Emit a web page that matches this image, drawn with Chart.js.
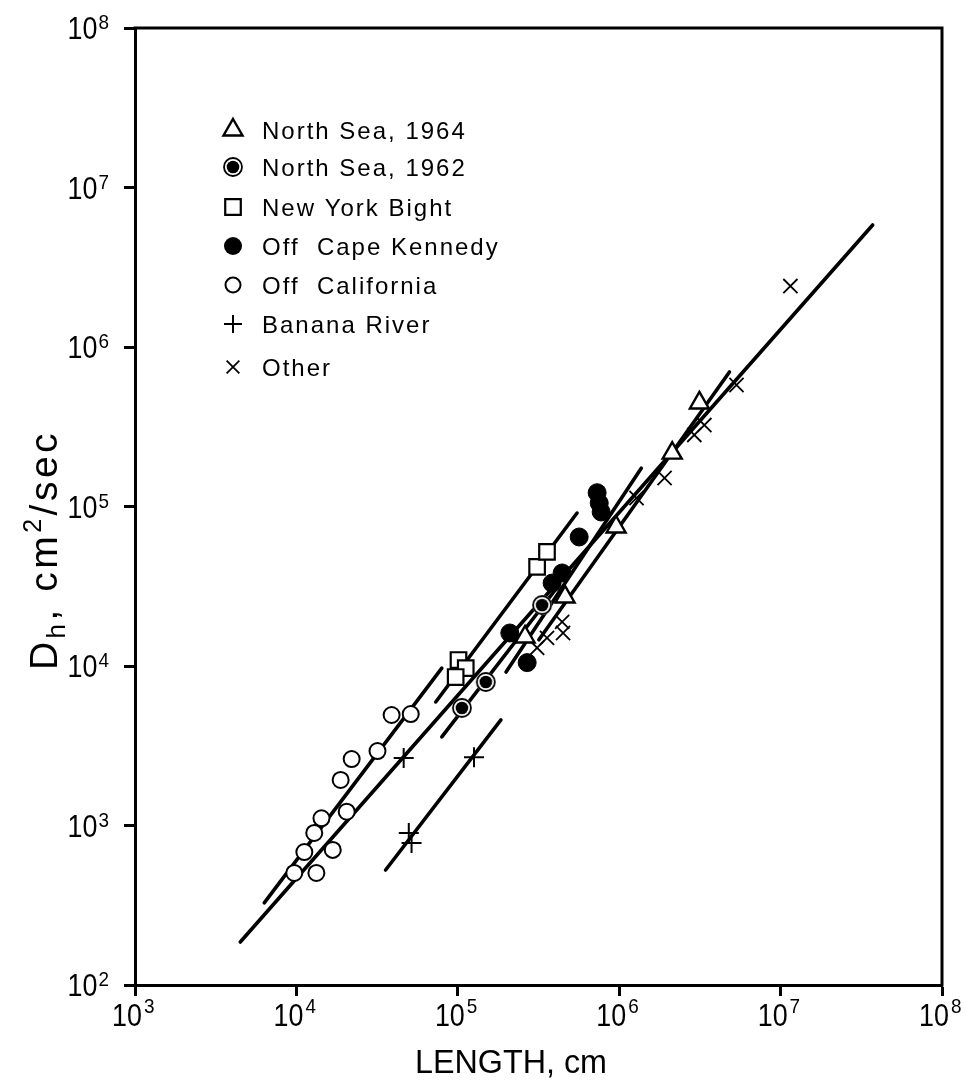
<!DOCTYPE html>
<html><head><meta charset="utf-8">
<script src="https://cdn.jsdelivr.net/npm/chart.js@4.4.1/dist/chart.umd.min.js"></script>
<style>html,body{margin:0;padding:0;background:#fff;}#wrap{width:966px;height:1082px;}</style>
</head><body><div id="wrap"><canvas id="c" width="966" height="1082"></canvas></div>
<script>
// ---- tick values ----
const xTickValues = [1e3, 1e4, 1e5, 1e6, 1e7, 1e8];
const xTickExponents = ['3', '4', '5', '6', '7', '8'];
const yTickValues = [1e2, 1e3, 1e4, 1e5, 1e6, 1e7, 1e8];
const yTickExponents = ['2', '3', '4', '5', '6', '7', '8'];

// ---- observations (length cm, Dh cm^2/sec) ----
const northSea1964L = [2.61e5, 4.62e5, 9.57e5, 2.13e6, 3.14e6];
const northSea1964D = [1.52e4, 2.71e4, 7.44e4, 2.16e5, 4.46e5];
const northSea1962L = [1.06e5, 1.49e5, 3.33e5];
const northSea1962D = [5.46e3, 7.94e3, 2.41e4];
const newYorkBightL = [1.01e5, 1.12e5, 9.7e4, 3.10e5, 3.57e5];
const newYorkBightD = [1.09e4, 9.7e3, 8.53e3, 4.18e4, 5.19e4];
const capeKennedyL = [2.10e5, 2.69e5, 3.84e5, 4.43e5, 5.65e5, 7.30e5, 7.52e5, 7.73e5];
const capeKennedyD = [1.61e4, 1.05e4, 3.31e4, 3.83e4, 6.44e4, 1.22e5, 1.05e5, 9.24e4];
const californiaL = [3.89e4, 5.11e4, 3.18e4, 2.20e4, 1.88e4, 2.05e4, 1.43e4, 1.29e4, 1.12e4, 1.68e4, 9.7e3, 1.33e4];
const californiaD = [4.93e3, 5.0e3, 2.93e3, 2.61e3, 1.93e3, 1.22e3, 1.11e3, 898, 682, 703, 504, 504];
const bananaRiverL = [4.62e4, 1.26e5, 4.97e4, 5.17e4];
const bananaRiverD = [2.65e3, 2.68e3, 898, 776];
const otherL = [3.10e5, 3.57e5, 4.43e5, 4.49e5, 1.28e6, 1.91e6, 2.92e6, 3.37e6, 5.33e6, 1.15e7];
const otherD = [1.30e4, 1.50e4, 1.89e4, 1.61e4, 1.13e5, 1.51e5, 2.81e5, 3.24e5, 5.78e5, 2.41e6];

// ---- fitted line segments (end points) ----
const fitAllL = [4.49e3, 3.72e7];          const fitAllD = [186, 5.82e6];
const fitCaliforniaL = [6.32e3, 7.96e4];   const fitCaliforniaD = [327, 9.7e3];
const fitBananaL = [3.57e4, 1.85e5];       const fitBananaD = [526, 4.59e3];
const fitNewYorkL = [7.3e4, 5.48e5];       const fitNewYorkD = [5.95e3, 9.1e4];
const fitNorthSea1962L = [7.96e4, 4.24e5]; const fitNorthSea1962D = [3.59e3, 3.22e4];
const fitCapeKennedyL = [1.99e5, 1.37e6];  const fitCapeKennedyD = [9.17e3, 1.74e5];
const fitNorthSea1964L = [3.18e5, 4.82e6]; const fitNorthSea1964D = [1.46e4, 6.97e5];

const legendLabels = ['North Sea, 1964', 'North Sea, 1962', 'New York Bight', 'Off  Cape Kennedy', 'Off  California', 'Banana River', 'Other'];

const zip = (a, b) => a.map((v, i) => ({x: v, y: b[i]}));

// ringed symbol (North Sea 1962)
const ringed = (() => {
  const c = document.createElement('canvas'); c.width = 22; c.height = 22;
  const g = c.getContext('2d');
  g.fillStyle = '#fff'; g.beginPath(); g.arc(11, 11, 10, 0, 2 * Math.PI); g.fill();
  g.strokeStyle = '#000'; g.lineWidth = 1.8; g.beginPath(); g.arc(11, 11, 9, 0, 2 * Math.PI); g.stroke();
  g.fillStyle = '#000'; g.beginPath(); g.arc(11, 11, 6.3, 0, 2 * Math.PI); g.fill();
  return c;
})();

const pointSets = [
  {label: legendLabels[0], data: zip(northSea1964L, northSea1964D), pointStyle: 'triangle', radius: 11, bg: '#fff', bw: 2.4},
  {label: legendLabels[1], data: zip(northSea1962L, northSea1962D), pointStyle: ringed, radius: 10, bg: '#fff', bw: 0},
  {label: legendLabels[2], data: zip(newYorkBightL, newYorkBightD), pointStyle: 'rect', radius: 11, bg: '#fff', bw: 2.2},
  {label: legendLabels[3], data: zip(capeKennedyL, capeKennedyD), pointStyle: 'circle', radius: 9, bg: '#000', bw: 1},
  {label: legendLabels[4], data: zip(californiaL, californiaD), pointStyle: 'circle', radius: 8, bg: '#fff', bw: 2},
  {label: legendLabels[5], data: zip(bananaRiverL, bananaRiverD), pointStyle: 'cross', radius: 10, bg: '#000', bw: 2},
  {label: legendLabels[6], data: zip(otherL, otherD), pointStyle: 'crossRot', radius: 10, bg: '#000', bw: 1.8}
];

const lineSets = [
  [fitAllL, fitAllD], [fitCaliforniaL, fitCaliforniaD], [fitBananaL, fitBananaD],
  [fitNewYorkL, fitNewYorkD], [fitNorthSea1962L, fitNorthSea1962D],
  [fitCapeKennedyL, fitCapeKennedyD], [fitNorthSea1964L, fitNorthSea1964D]
];

const datasets = [];
lineSets.forEach(([l, d], i) => datasets.push({
  label: 'fit' + i, data: zip(l, d), showLine: true, pointRadius: 0, borderColor: '#000',
  borderWidth: 3.6, borderCapStyle: 'round', order: 2
}));
pointSets.forEach(s => datasets.push({
  label: s.label, data: s.data, showLine: false, pointStyle: s.pointStyle, pointRadius: s.radius,
  pointHoverRadius: s.radius, backgroundColor: s.bg, borderColor: '#000', borderWidth: s.bw, order: 1
}));

const FONT = '"Liberation Sans", Arial, Helvetica, sans-serif';

function scaledText(ctx, text, x, y, size, sx, align) {
  ctx.font = size + 'px ' + FONT;
  const w = ctx.measureText(text).width * sx;
  let x0 = x;
  if (align === 'right') x0 = x - w; else if (align === 'center') x0 = x - w / 2;
  ctx.save(); ctx.translate(x0, y); ctx.scale(sx, 1); ctx.textAlign = 'left'; ctx.fillText(text, 0, 0); ctx.restore();
  return w;
}
function textWidth(ctx, text, size, sx) { ctx.font = size + 'px ' + FONT; return ctx.measureText(text).width * sx; }

function drawSymbol(ctx, s, x, y) {
  ctx.save();
  ctx.strokeStyle = '#000'; ctx.fillStyle = '#000';
  if (s.pointStyle === ringed) { ctx.drawImage(ringed, x - 11, y - 11); ctx.restore(); return; }
  const r = s.legendR;
  ctx.lineWidth = s.bw;
  ctx.beginPath();
  if (s.pointStyle === 'triangle') {
    ctx.moveTo(x, y - r); ctx.lineTo(x + r * 0.866, y + r * 0.5); ctx.lineTo(x - r * 0.866, y + r * 0.5); ctx.closePath();
    ctx.fillStyle = '#fff'; ctx.fill(); ctx.stroke();
  } else if (s.pointStyle === 'rect') {
    const h = r * Math.SQRT1_2; ctx.rect(x - h, y - h, 2 * h, 2 * h); ctx.stroke();
  } else if (s.pointStyle === 'circle') {
    ctx.arc(x, y, r, 0, 2 * Math.PI);
    if (s.bg === '#000') ctx.fill(); else ctx.stroke();
  } else if (s.pointStyle === 'cross') {
    ctx.moveTo(x - r, y); ctx.lineTo(x + r, y); ctx.moveTo(x, y - r); ctx.lineTo(x, y + r); ctx.stroke();
  } else if (s.pointStyle === 'crossRot') {
    const h = r * Math.SQRT1_2; ctx.moveTo(x - h, y - h); ctx.lineTo(x + h, y + h); ctx.moveTo(x + h, y - h); ctx.lineTo(x - h, y + h); ctx.stroke();
  }
  ctx.restore();
}
const legendRadii = [11, 10, 11, 9, 7.5, 9, 9];
pointSets.forEach((s, i) => s.legendR = legendRadii[i]);

const decor = {
  id: 'decor',
  afterDraw(chart) {
    const {ctx, chartArea: a, scales: {x, y}} = chart;
    ctx.save();
    // frame top + right
    ctx.strokeStyle = '#000'; ctx.lineWidth = 3;
    ctx.beginPath(); ctx.moveTo(a.left - 1.5, a.top); ctx.lineTo(a.right, a.top); ctx.lineTo(a.right, a.bottom + 1.5); ctx.stroke();
    ctx.fillStyle = '#000'; ctx.textBaseline = 'alphabetic';
    // y tick labels
    yTickValues.forEach((v, i) => {
      const py = y.getPixelForValue(v);
      const we = textWidth(ctx, yTickExponents[i], 21, 0.9);
      scaledText(ctx, yTickExponents[i], 109 - we, py + 1, 21, 0.9, 'left');
      scaledText(ctx, '10', 109 - we - 1, py + 11, 32, 0.84, 'right');
    });
    // x tick labels
    xTickValues.forEach((v, i) => {
      const px = x.getPixelForValue(v);
      scaledText(ctx, '10', px + 7, 1026, 32, 0.84, 'right');
      scaledText(ctx, xTickExponents[i], px + 9, 1013, 21, 0.9, 'left');
    });
    // x title
    scaledText(ctx, 'LENGTH, cm', 511, 1073, 34, 0.95, 'center');
    // y title (rotated)
    ctx.save();
    ctx.translate(57, 550); ctx.rotate(-Math.PI / 2);
    if ('letterSpacing' in ctx) ctx.letterSpacing = '3.5px';
    const parts = [['D', 39, 0], ['h', 26, 8], [', cm', 39, 0], ['2', 25, -16], ['/sec', 39, 0]];
    let total = 0; parts.forEach(p => total += textWidth(ctx, p[0], p[1], 1));
    let cx = -total / 2;
    parts.forEach(p => { cx += scaledText(ctx, p[0], cx, p[2], p[1], 1, 'left'); });
    if ('letterSpacing' in ctx) ctx.letterSpacing = '0px';
    ctx.restore();
    // legend
    const rowsY = [130, 167, 207, 246, 285, 324, 367];
    if ('letterSpacing' in ctx) ctx.letterSpacing = '2px';
    pointSets.forEach((s, i) => {
      drawSymbol(ctx, s, 233, rowsY[i]);
      ctx.fillStyle = '#000'; ctx.font = '24px ' + FONT; ctx.textAlign = 'left';
      ctx.fillText(s.label, 262, rowsY[i] + 8.5);
    });
    if ('letterSpacing' in ctx) ctx.letterSpacing = '0px';
    ctx.restore();
  }
};

new Chart(document.getElementById('c'), {
  type: 'scatter',
  data: {datasets},
  options: {
    responsive: false, animation: false, devicePixelRatio: 1,
    layout: {padding: {top: 28, right: 24, left: 0, bottom: 0}},
    plugins: {legend: {display: false}, tooltip: {enabled: false}},
    scales: {
      x: {
        type: 'logarithmic', min: 1e3, max: 1e8,
        afterBuildTicks: s => { s.ticks = xTickValues.map(v => ({value: v})); },
        afterFit: s => { s.height = 97; },
        ticks: {display: false},
        grid: {drawOnChartArea: false, drawTicks: true, tickLength: 11, tickWidth: 3, color: '#000'},
        border: {color: '#000', width: 3}
      },
      y: {
        type: 'logarithmic', min: 1e2, max: 1e8,
        afterBuildTicks: s => { s.ticks = yTickValues.map(v => ({value: v})); },
        afterFit: s => { s.width = 135; },
        ticks: {display: false},
        grid: {drawOnChartArea: false, drawTicks: true, tickLength: 11, tickWidth: 3, color: '#000'},
        border: {color: '#000', width: 3}
      }
    }
  },
  plugins: [decor]
});
</script>
</body></html>
